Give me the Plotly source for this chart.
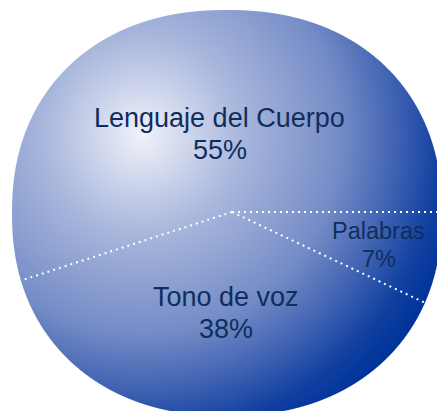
import base64
import struct
import zlib

import numpy as np
import plotly.graph_objects as go

# ---------------- data ----------------
labels = ["Palabras", "Tono de voz", "Lenguaje del Cuerpo"]
values = [7, 38, 55]

# ---------------- geometry / style (figure pixels) ----------------
W, H = 437, 411
EX, EY, RX, RY, EN = 227, 213, 215, 203, 2.2   # visible disk (rounded ellipse)
PX, PY, PR = 232, 212, 199                     # pie centre and radius
FX, FY = 142, 135                              # highlight focus of the gradient
stop_dist = [0, 100, 200, 260, 300, 330]
stop_col = [(240, 242, 250), (168, 182, 220), (115, 139, 198),
            (58, 94, 176), (15, 63, 160), (0, 51, 153)]
label_sizes = [23.5, 27, 27]
label_radius = [0.755, 0.51, 0.398]      # label distance from centre, fraction of radius
LINE_GAP = 1.18                          # line spacing of the two-line labels (em)
TEXT_COLOR = "#0F2E5D"
FONT = "Liberation Sans, Arial, sans-serif"
ROTATION = 90


def png_uri(rgba):
    h, w, _ = rgba.shape
    raw = b"".join(b"\x00" + rgba[y].tobytes() for y in range(h))

    def chunk(tag, data):
        c = struct.pack(">I", len(data)) + tag + data
        return c + struct.pack(">I", zlib.crc32(tag + data) & 0xFFFFFFFF)

    png = (b"\x89PNG\r\n\x1a\n"
           + chunk(b"IHDR", struct.pack(">IIBBBBB", w, h, 8, 6, 0, 0, 0))
           + chunk(b"IDAT", zlib.compress(raw, 9))
           + chunk(b"IEND", b""))
    return "data:image/png;base64," + base64.b64encode(png).decode()


def disk_level(x, y):
    return (np.abs((x - EX) / RX) ** EN + np.abs((y - EY) / RY) ** EN) ** (1 / EN)


# radial gradient backdrop clipped to the disk
yy, xx = np.mgrid[0:H, 0:W] + 0.5
dist = np.hypot(xx - FX, yy - FY)
rgb = np.stack([np.interp(dist, stop_dist, [c[i] for c in stop_col]) for i in range(3)], axis=-1)
alpha = np.clip((1 - disk_level(xx, yy)) * min(RX, RY) + 0.5, 0, 1)
rgba = np.dstack([rgb, alpha * 255]).round().astype(np.uint8)


def px2paper(x, y):
    return x / W, 1 - y / H


def direction(frac_pos):
    a = np.radians(ROTATION + 360 * frac_pos)
    return np.sin(a), -np.cos(a)


total = float(sum(values))
fracs = np.array(values) / total
cum = np.concatenate([[0], np.cumsum(fracs)[:-1]])

# slice boundaries (dotted white separators) from the data
shapes = []
for c in cum:
    dx, dy = direction(c)
    lo, hi = 0.0, 600.0
    for _ in range(60):
        mid = (lo + hi) / 2
        if disk_level(PX + mid * dx, PY + mid * dy) < 1:
            lo = mid
        else:
            hi = mid
    t = lo - 1
    x0, y0 = px2paper(PX, PY)
    x1, y1 = px2paper(PX + t * dx, PY + t * dy)
    shapes.append(dict(type="line", xref="paper", yref="paper",
                       x0=x0, y0=y0, x1=x1, y1=y1, layer="above",
                       line=dict(color="white", width=2, dash="2px,4px")))

# slice labels placed along each slice's middle angle (name line + percent line)
annotations = []
for lab, f, c, rf, sz in zip(labels, fracs, cum, label_radius, label_sizes):
    dx, dy = direction(c + f / 2)
    x, y = px2paper(PX + rf * PR * dx, PY + rf * PR * dy)
    for txt, shift in ((lab, 1), (f"{round(f * 100)}%", -1)):
        annotations.append(dict(text=txt, x=x, y=y, yshift=shift * LINE_GAP * sz / 2,
                                xref="paper", yref="paper", showarrow=False,
                                xanchor="center", yanchor="middle",
                                font=dict(family=FONT, size=sz, color=TEXT_COLOR)))

fig = go.Figure(go.Pie(
    labels=labels,
    values=values,
    sort=False,
    direction="clockwise",
    rotation=ROTATION,
    marker=dict(colors=["rgba(0,0,0,0)"] * len(values), line=dict(width=0)),
    textinfo="none",
    hoverinfo="label+percent",
    showlegend=False,
    domain=dict(x=[(PX - PR) / W, (PX + PR) / W],
                y=[1 - (PY + PR) / H, 1 - (PY - PR) / H]),
))

fig.update_layout(
    width=W, height=H,
    margin=dict(l=0, r=0, t=0, b=0),
    paper_bgcolor="white",
    plot_bgcolor="white",
    showlegend=False,
    shapes=shapes,
    annotations=annotations,
    images=[dict(source=png_uri(rgba), xref="paper", yref="paper",
                 x=0, y=1, sizex=1, sizey=1, xanchor="left", yanchor="top",
                 sizing="stretch", layer="below")],
)

# let the 437x411 figure fill the window exactly (no default page margin)
fig.write_html("out.html",
               config={"displayModeBar": False},
               post_script="document.body.style.margin='0';"
                           "document.body.style.overflow='hidden';")
